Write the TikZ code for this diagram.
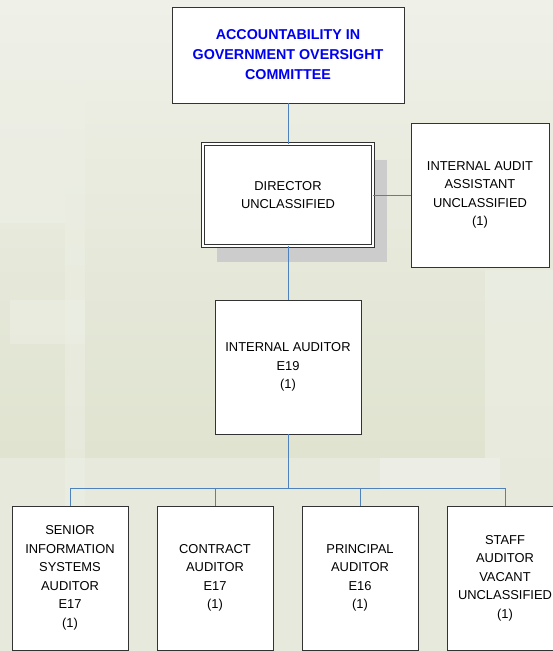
\documentclass[tikz,border=0pt]{standalone}
\usepackage{fontspec}
\setmainfont{Liberation Sans}
\usetikzlibrary{shadows}
\definecolor{bgtop}{HTML}{EFF0E8}
\definecolor{bgmid}{HTML}{DFE3CF}
\definecolor{bglow}{HTML}{E6E9DC}
\definecolor{bglight}{HTML}{EDEFE6}
\definecolor{linkblue}{HTML}{4F81BD}
\definecolor{shadowgray}{HTML}{CCCCCC}
\definecolor{titleblue}{HTML}{0000F0}
\definecolor{boxline}{HTML}{333333}
\tikzset{
  box/.style={draw=boxline, line width=0.9pt, fill=white, align=center, inner sep=0pt,
    font=\fontsize{12.9}{18.5}\selectfont},
  titlebox/.style={box, font=\fontsize{14.3}{20}\selectfont\bfseries, text=titleblue},
  dirbox/.style={box, double=white, double distance=2pt, line width=0.7pt,
    drop shadow={shadow xshift=14pt, shadow yshift=-16pt, fill=shadowgray, opacity=1}},
  link/.style={draw=linkblue, line width=0.9pt}
}
\begin{document}
\begin{tikzpicture}[x=1pt, y=-1pt]
\useasboundingbox (0,0) rectangle (553,651);
\clip (0,0) rectangle (553,651);
% background
\shade[top color=bgtop, bottom color=bgmid] (0,0) rectangle (553,458);
\fill[bglow] (0,458) rectangle (553,651);
\fill[bglight, opacity=0.6] (0,97) rectangle (65,223);
\fill[bglight, opacity=0.5] (65,80) rectangle (85,651);
\fill[bglight, opacity=0.5] (10,300) rectangle (85,344);
\fill[bglight, opacity=0.6] (485,270) rectangle (553,458);
\fill[bgtop, opacity=0.7] (380,458) rectangle (500,490);
\fill[bgtop, opacity=0.4] (0,0) rectangle (553,80);
% nodes
\node[titlebox, minimum width=232pt, minimum height=96pt] (top) at (288,55)
  {ACCOUNTABILITY IN\\GOVERNMENT OVERSIGHT\\COMMITTEE};
\node[dirbox, minimum width=170pt, minimum height=102pt] (dir) at (288,195)
  {DIRECTOR\\UNCLASSIFIED};
\node[box, minimum width=138pt, minimum height=144pt] (assist) at (480,195)
  {INTERNAL AUDIT\\ASSISTANT\\UNCLASSIFIED\\(1)};
\node[box, minimum width=146pt, minimum height=134pt] (ia) at (288,367)
  {INTERNAL AUDITOR\\E19\\(1)};
\coordinate (bus) at (288,488);
\node[box, minimum width=116pt, minimum height=144pt] (b1) at (70,578)
  {SENIOR\\INFORMATION\\SYSTEMS\\AUDITOR\\E17\\(1)};
\node[box, minimum width=116pt, minimum height=144pt] (b2) at (215,578)
  {CONTRACT\\AUDITOR\\E17\\(1)};
\node[box, minimum width=116pt, minimum height=144pt] (b3) at (360,578)
  {PRINCIPAL\\AUDITOR\\E16\\(1)};
\node[box, minimum width=116pt, minimum height=144pt] (b4) at (505,578)
  {STAFF\\AUDITOR\\VACANT\\UNCLASSIFIED\\(1)};
% connectors
\draw[link] (top.south) -- (dir.north);
\draw[link] (dir.east) -- (assist.west);
\draw[link] (dir.south) -- (ia.north);
\draw[link] (ia.south) -- (bus);
\draw[link] (bus) -| (b1.north);
\draw[link] (bus) -| (b2.north);
\draw[link] (bus) -| (b3.north);
\draw[link] (bus) -| (b4.north);
\end{tikzpicture}
\end{document}
